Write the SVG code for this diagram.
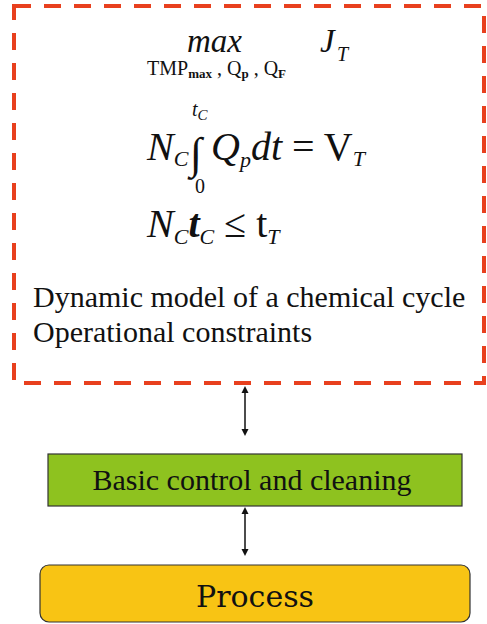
<svg xmlns="http://www.w3.org/2000/svg" width="487" height="624" viewBox="0 0 487 624">
<style>
.a{font-family:'Liberation Serif','DejaVu Serif',serif;fill:#111}
.i{font-style:italic}
.lbl{text-anchor:middle}
.conn{stroke:#111;stroke-width:1.5;fill:none}
.head{fill:#111}
</style>
<rect width="487" height="624" fill="#fff"/>
<g id="optimizer">
<rect x="14" y="6" width="470" height="377" fill="none" stroke="#E8401E" stroke-width="4" stroke-dasharray="17 13"/>
<text class="a i" x="187" y="52" font-size="33"><tspan dy="0">max</tspan></text>
<text class="a i" x="320" y="52" font-size="33"><tspan dy="0">J</tspan></text>
<text class="a i" x="337" y="61" font-size="20"><tspan dy="0">T</tspan></text>
<text class="a" x="147" y="75" font-size="20">TMP<tspan font-size="13" font-weight="bold" dy="3">max</tspan><tspan dy="-3"> , Q</tspan><tspan font-size="13" font-weight="bold" dy="3">p</tspan><tspan dy="-3"> , Q</tspan><tspan font-size="13" font-weight="bold" dy="3">F</tspan></text>
<text class="a i" x="147" y="160" font-size="40">N<tspan font-size="22" dy="6">C</tspan></text>
<text class="a i" x="192" y="116" font-size="20">t<tspan font-size="15" dy="4">C</tspan></text>
<text class="a" x="190" y="168" font-size="44">&#8747;</text>
<text class="a" x="195" y="193" font-size="20">0</text>
<text class="a i" x="211" y="160" font-size="40">Q<tspan font-size="22" dy="7">p</tspan><tspan dy="-7">dt</tspan><tspan font-style="normal"> = V</tspan><tspan font-size="22" dy="6">T</tspan></text>
<text class="a i" x="147" y="237" font-size="40">N<tspan font-size="22" dy="7">C</tspan><tspan font-weight="bold" dy="-7">t</tspan><tspan font-size="22" dy="7">C</tspan><tspan font-style="normal" dy="-7"> &#8804; t</tspan><tspan font-size="22" dy="7">T</tspan></text>
<text font-family="Times New Roman" fill="#111" x="33" y="307" font-size="30">Dynamic model of a chemical cycle</text>
<text style="font-family:'Liberation Serif',serif" fill="#111" x="33" y="342" font-size="30">Operational constraints</text>
</g>
<g id="basic">
<rect x="48" y="454" width="414" height="52" fill="#8EC21F" stroke="#333" stroke-width="1.2"/>
<text class="a lbl" x="252" y="490" font-size="30">Basic<tspan dy="0"> control and cleaning</tspan></text>
</g>
<g id="process">
<rect x="40" y="565" width="430" height="57" rx="9" fill="#F8C414" stroke="#333" stroke-width="1.2"/>
<text font-family="DejaVu Serif" text-anchor="middle" fill="#111" x="255" y="607" font-size="30">Process</text>
</g>
<g id="connectors">
<line class="conn" x1="245" y1="392" x2="245" y2="430"/>
<polygon class="head" points="245,386 241.5,393 248.5,393"/>
<polygon class="head" points="245,436 241.5,429 248.5,429"/>
<line class="conn" x1="245" y1="513" x2="245" y2="550"/>
<polygon class="head" points="245,507 241.5,514 248.5,514"/>
<polygon class="head" points="245,556 241.5,549 248.5,549"/>
</g>
</svg>
